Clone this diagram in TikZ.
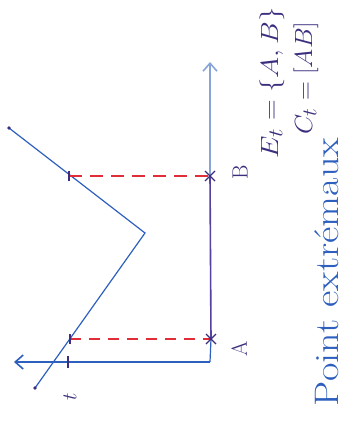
\documentclass[tikz,border=0pt]{standalone}
\usetikzlibrary{arrows.meta}
\definecolor{inkblue}{RGB}{45,95,190}
\definecolor{lightaxis}{RGB}{135,165,215}
\definecolor{segpurple}{RGB}{85,65,160}
\definecolor{inkdark}{RGB}{60,45,125}
\definecolor{inkred}{RGB}{225,45,55}
\begin{document}
\begin{tikzpicture}[x=1pt, y=-1pt,
    axe/.style={inkblue, line width=1.2pt},
    fleche/.style={-{Straight Barb[length=8pt,width=14pt,line width=1.6pt]}},
    marque/.style={inkdark, line width=1.4pt},
    lbl/.style={inkdark, rotate=90, inner sep=0pt}]
    \useasboundingbox (0,0) rectangle (344,423);

    % repère (dessiné tourné)
    \coordinate (O) at (210,362);
    \coordinate (A) at (211,339);
    \coordinate (B) at (210,176);
    \coordinate (haut) at (210,62);
    \coordinate (gauche) at (14,362);
    \draw[axe, fleche] (O) -- (gauche);
    \draw[axe] (O) -- (A);
    \draw[segpurple, line width=1.6pt] (A) -- (B);
    \draw[lightaxis, line width=1.2pt, fleche] (B) -- (haut);

    % ligne brisée
    \coordinate (P1) at (35,388);
    \coordinate (P2) at (145,233);
    \coordinate (P3) at (9,128);
    \draw[inkblue, line width=1.2pt] (P1) -- (P2) -- (P3);
    \fill[inkdark] (P1) circle (1.8pt) (P3) circle (1.8pt);

    % projections sur l'axe
    \coordinate (QA) at (70,339);
    \coordinate (QB) at (69,176);
    \draw[inkred, line width=1.2pt, dash pattern=on 11pt off 8pt] (QA) -- (A);
    \draw[inkred, line width=1.2pt, dash pattern=on 13pt off 8pt] (QB) -- (B);

    % petites marques
    \coordinate (T) at (68,362);
    \draw[marque] (T) ++(0,-6) -- ++(0,12);
    \draw[marque] (QA) ++(0,-5) -- ++(0,10);
    \draw[marque] (QB) ++(0,-5) -- ++(0,10);
    \draw[marque] (A) ++(-5,-5) -- ++(10,10) ++(0,-10) -- ++(-10,10);
    \draw[marque] (B) ++(-5,-5) -- ++(10,10) ++(0,-10) -- ++(-10,10);

    % textes
    \node[lbl, font=\fontsize{22}{22}\selectfont] (lA) at (239,349) {A};
    \node[lbl, font=\fontsize{22}{22}\selectfont] (lB) at (240,172) {B};
    \node[lbl, font=\fontsize{22}{22}\selectfont] (lt) at (70,397) {$t$};
    \node[lbl, font=\fontsize{29}{29}\selectfont] (lE) at (272,83) {\scalebox{1.15}[1]{$E_t=\{A,B\}$}};
    \node[lbl, font=\fontsize{29}{29}\selectfont] (lC) at (306,78) {\scalebox{1.05}[1]{$C_t=[AB]$}};
    \node[lbl, inkblue, font=\fontsize{34}{34}\selectfont] (titre) at (327,272) {\scalebox{1.18}[1]{Point extrémaux}};
\end{tikzpicture}
\end{document}
